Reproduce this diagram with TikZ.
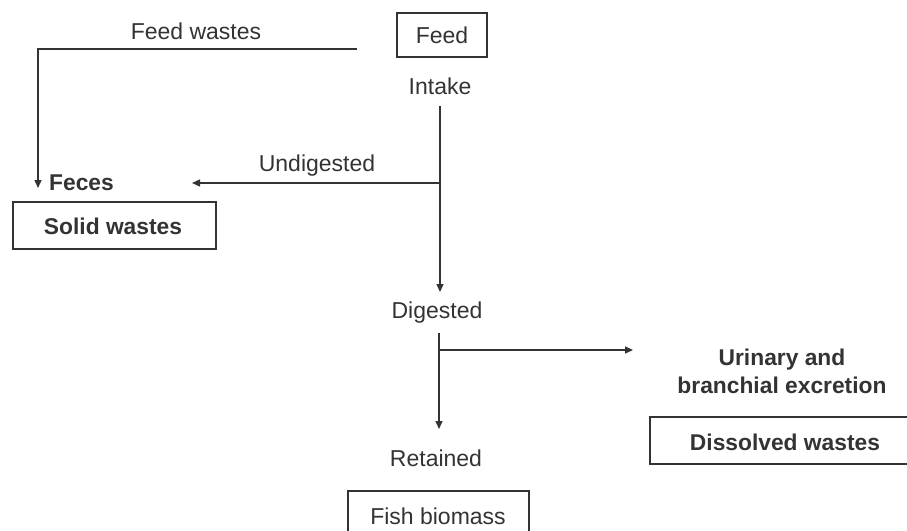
\documentclass[tikz,border=0pt]{standalone}
\usepackage{fontspec}
\setmainfont{Liberation Sans}
\usetikzlibrary{arrows.meta}
\definecolor{ink}{HTML}{333333}
\begin{document}
\begin{tikzpicture}[x=1pt,y=-1pt,
  every node/.style={text=ink,font=\fontsize{23}{28}\selectfont,inner sep=0pt},
  blbl/.style={font=\fontsize{22.8}{28}\selectfont\bfseries},
  boxline/.style={draw=ink,line width=1.4pt},
  conn/.style={draw=ink,line width=1.4pt},
  arr/.style={conn,-{Triangle[length=8pt,width=7pt]}}]
\useasboundingbox (0,0) rectangle (907,530);
\clip (0,0) rectangle (907,530);
% boxes
\draw[boxline] (397,13) rectangle (487,57);
\node (feed) at (442,35) {Feed};
\draw[boxline] (13,202) rectangle (216,249);
\node[blbl] (solid) at (113,226) {Solid wastes};
\draw[boxline] (650,417) rectangle (915,464);
\node[blbl] (dissolved) at (785,442) {Dissolved wastes};
\draw[boxline] (348,491) rectangle (529,545);
\node (fish) at (438,516) {Fish biomass};
% labels
\node (intake) at (440,86) {Intake};
\node (feedw) at (196,31) {Feed wastes};
\node (undig) at (317,166) {Undigested};
\node[blbl,anchor=west] (feces) at (49,183) {Feces};
\node (digested) at (437,313) {Digested};
\node (retained) at (436,458) {Retained};
\node[blbl,align=center] (urinary) at (782,371) {Urinary and\\branchial excretion};
% coordinates
\coordinate (fwA) at (357,49);
\coordinate (fwB) at (38,49);
\coordinate (fwC) at (38,188);
\coordinate (iTop) at (440,106);
\coordinate (iBr) at (440,183);
\coordinate (iEnd) at (440,292);
\coordinate (uEnd) at (192,183);
\coordinate (dTop) at (439,333);
\coordinate (dBr) at (439,350);
\coordinate (dEnd) at (439,429);
\coordinate (xEnd) at (633,350);
% connectors
\draw[arr] (fwA) -- (fwB) -- (fwC);
\draw[arr] (iTop) -- (iEnd);
\draw[arr] (iBr) -- (uEnd);
\draw[arr] (dTop) -- (dEnd);
\draw[arr] (dBr) -- (xEnd);
\end{tikzpicture}
\end{document}
